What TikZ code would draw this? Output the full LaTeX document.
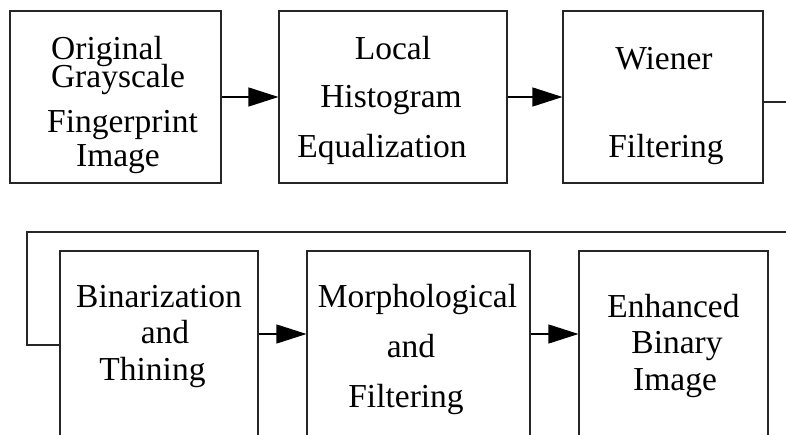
\documentclass[tikz,border=0pt]{standalone}
\usepackage{fontspec}
\setmainfont{Liberation Serif}
\usetikzlibrary{arrows.meta}
\begin{document}
\begin{tikzpicture}[x=1pt,y=-1pt,
  box/.style={draw=black!85, line width=1.1pt, inner sep=0pt},
  lbl/.style={anchor=base, inner sep=0pt, font=\fontsize{33.5}{40}\selectfont},
  arr/.style={draw=black, line width=1.1pt, -{Triangle[length=30pt,width=19pt]}},
  wire/.style={draw=black!85, line width=1.1pt}]
\useasboundingbox (0,0) rectangle (786,435);
\clip (0,0) rectangle (786,435);
% top row
\node[box, minimum width=211pt, minimum height=172pt] (b1) at (115.5,97) {};
\node[box, minimum width=228pt, minimum height=172pt] (b2) at (393,97) {};
\node[box, minimum width=200pt, minimum height=172pt] (b3) at (663,97) {};
% bottom row
\node[box, minimum width=198pt, minimum height=219pt] (b4) at (159,360.5) {};
\node[box, minimum width=223pt, minimum height=219pt] (b5) at (418.5,360.5) {};
\node[box, minimum width=189pt, minimum height=219pt] (b6) at (673.5,360.5) {};
% labels
\node[lbl] (t1a) at (107,60) {Original};
\node[lbl] (t1b) at (118,88) {Grayscale};
\node[lbl] (t1c) at (122.5,133) {Fingerprint};
\node[lbl] (t1d) at (118,167) {Image};
\node[lbl] (t2a) at (393,60) {Local};
\node[lbl] (t2b) at (391,108) {Histogram};
\node[lbl] (t2c) at (382,158) {Equalization};
\node[lbl] (t3a) at (664,70) {Wiener};
\node[lbl] (t3b) at (666,158) {Filtering};
\node[lbl] (t4a) at (159,307) {Binarization};
\node[lbl] (t4b) at (165,343) {and};
\node[lbl] (t4c) at (152.5,380) {Thining};
\node[lbl] (t5a) at (417.5,307) {Morphological};
\node[lbl] (t5b) at (411,357) {and};
\node[lbl] (t5c) at (406,407) {Filtering};
\node[lbl] (t6a) at (673.5,317) {Enhanced};
\node[lbl] (t6b) at (677,353) {Binary};
\node[lbl] (t6c) at (675,390) {Image};
% connectors
\coordinate (r1) at (0,97);
\coordinate (r2) at (0,334);
\coordinate (wy) at (0,102);
\coordinate (ly) at (0,345);
\coordinate (c1) at (820,102);
\coordinate (c2) at (820,232);
\coordinate (c3) at (27,232);
\coordinate (c4) at (27,345);
\draw[arr] (b1.east |- r1) -- (b2.west |- r1);
\draw[arr] (b2.east |- r1) -- (b3.west |- r1);
\draw[wire] (b3.east |- wy) -- (c1) -- (c2) -- (c3) -- (c4) -- (b4.west |- ly);
\draw[arr] (b4.east |- r2) -- (b5.west |- r2);
\draw[arr] (b5.east |- r2) -- (b6.west |- r2);
\end{tikzpicture}
\end{document}
